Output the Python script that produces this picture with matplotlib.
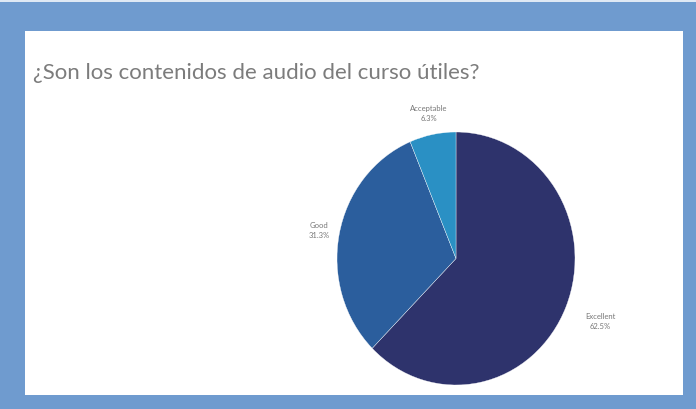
import matplotlib.pyplot as plt
from matplotlib.patches import Rectangle
import numpy as np

# data
labels = ['Excellent', 'Good', 'Acceptable']
values = [62.5, 31.3, 6.3]
pct_text = ['62.5%', '31.3%', '6.3%']
colors = ['#2e336c', '#2b5e9d', '#2a90c4']
label_dist = [1.31, 1.17, 1.17]

W, H = 696, 409
fig = plt.figure(figsize=(W / 100, H / 100), dpi=100)
fig.patch.set_facecolor('#6f9bcf')

# white card
fig.patches.append(Rectangle((25 / W, 1 - 395 / H), 658 / W, 364 / H,
                             transform=fig.transFigure, facecolor='white',
                             edgecolor='none', zorder=-5))
fig.patches.append(Rectangle((0, 1 - 2 / H), 1, 2 / H,
                             transform=fig.transFigure, facecolor='#dfe9f4',
                             edgecolor='none', zorder=-5))

fig.text(33 / W, 1 - 73 / H, '¿Son los contenidos de audio del curso útiles?',
         fontsize=16, color='#7c7c7c', family='Lato',
         va='center', ha='left')

ax = fig.add_axes([337 / W, 1 - 385 / H, 238 / W, 253 / H])
ax.set_zorder(2)
wedges, _ = ax.pie(values, colors=colors, startangle=90, counterclock=False,
                   wedgeprops=dict(edgecolor='white', linewidth=0.25))
ax.set_aspect('auto')
ax.set_xlim(-1, 1)
ax.set_ylim(-1, 1)

for w, lab, pt, d in zip(wedges, labels, pct_text, label_dist):
    ang = np.deg2rad((w.theta1 + w.theta2) / 2)
    ax.text(d * np.cos(ang), d * np.sin(ang), lab + '\n' + pt,
            ha='center', va='center', fontsize=5.5, color='#777777',
            family='Lato', linespacing=1.5, clip_on=False)

fig.savefig('out.png', dpi=100, facecolor=fig.get_facecolor())
